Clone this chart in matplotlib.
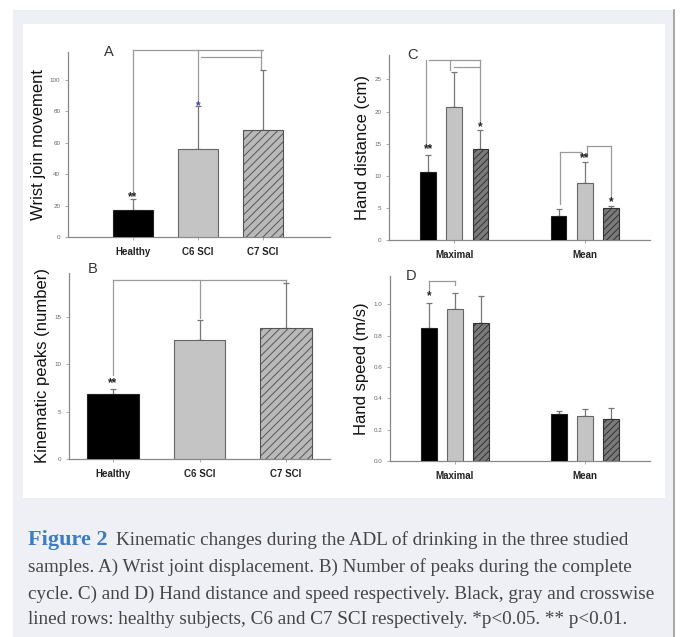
import numpy as np
import matplotlib.pyplot as plt
from matplotlib.patches import Rectangle

# ---- data ----
groups = ['Healthy', 'C6 SCI', 'C7 SCI']
wrist_mean = [17, 56, 68]
wrist_err = [7, 27, 38]
peaks_mean = [6.8, 12.5, 13.8]
peaks_err = [0.6, 2.2, 4.7]

conds = ['Maximal', 'Mean']
dist_healthy = [10.6, 3.7]
dist_healthy_err = [2.7, 1.2]
dist_c6 = [20.7, 8.8]
dist_c6_err = [5.5, 3.4]
dist_c7 = [14.1, 5.0]
dist_c7_err = [3.0, 0.3]

speed_healthy = [0.85, 0.30]
speed_healthy_err = [0.16, 0.02]
speed_c6 = [0.97, 0.29]
speed_c6_err = [0.10, 0.04]
speed_c7 = [0.88, 0.27]
speed_c7_err = [0.17, 0.07]

plt.rcParams['font.family'] = ['Liberation Sans', 'DejaVu Sans']
plt.rcParams['hatch.linewidth'] = 0.7

fig = plt.figure(figsize=(6.8, 6.37), dpi=100, facecolor='white')
W, H = 680, 637


def px_rect(x0, y0, x1, y1, **kw):
    fig.patches.append(Rectangle((x0 / W, 1 - y1 / H), (x1 - x0) / W, (y1 - y0) / H,
                                 transform=fig.transFigure, zorder=-10, **kw))


# page background: lavender box with white chart panel
px_rect(13, 10, 674, 640, facecolor='#eff0f6', edgecolor='none')
fig.add_artist(plt.Line2D([674 / W, 674 / W], [0, 1 - 10 / H], transform=fig.transFigure,
                          color='#999999', lw=1.2))
px_rect(23, 24, 665, 498, facecolor='white', edgecolor='none')

BLACK = dict(facecolor='black', edgecolor='#222222')
GRAY = dict(facecolor='#c4c4c4', edgecolor='#666666')
LINE = '#9a9a9a'


def style(ax, ylabel, letter, lx, ly):
    for s in ['top', 'right']:
        ax.spines[s].set_visible(False)
    for s in ['left', 'bottom']:
        ax.spines[s].set_color('#888888')
        ax.spines[s].set_linewidth(0.9)
    ax.set_facecolor('none')
    ax.tick_params(axis='y', labelsize=4.5, labelcolor='#666666', length=2, width=0.5, color='#888888')
    ax.tick_params(axis='x', labelsize=7, length=2, width=0.5, color='#888888', pad=5)
    for t in ax.get_xticklabels():
        t.set_fontweight('bold')
        t.set_color('#222222')
    ax.set_ylabel(ylabel, fontsize=12, color='#111111', labelpad=3)
    ax.text(lx, ly, letter, transform=ax.transAxes, fontsize=10.5, color='#333333',
            ha='center', va='center')


def seg(ax, xs, ys):
    ax.plot(xs, ys, color=LINE, lw=0.9, clip_on=False, zorder=1)


def star(ax, x, y, s, color='#222222'):
    ax.text(x, y, s, ha='center', va='center', fontsize=8.5, fontweight='bold', color=color)


def bars(ax, x, h, e, width, **kw):
    ax.bar(x, h, width, zorder=3, linewidth=0.8, **kw)
    ax.errorbar(x, h, yerr=[np.zeros(len(h)), e], fmt='none', ecolor='#777777',
                elinewidth=0.9, capsize=2.5, capthick=0.9, zorder=2)


# ---- panel A ----
axA = fig.add_axes([68 / W, 1 - 237 / H, 262 / W, 185 / H])
x3 = np.arange(3)
for i, kw in enumerate([BLACK, GRAY, dict(facecolor='#b9b9b9', edgecolor='#555555', hatch='////')]):
    bars(axA, [x3[i]], [wrist_mean[i]], [wrist_err[i]], 0.62, **kw)
axA.set_xlim(-1.0, 3.03)
axA.set_ylim(0, 117.5)
axA.set_yticks([0, 20, 40, 60, 80, 100])
axA.set_xticks(x3)
axA.set_xticklabels(groups)
style(axA, 'Wrist join movement', 'A', 0.155, 1.0)
seg(axA, [0, 0], [29, 118.5])
seg(axA, [0, 2], [118.5, 118.5])
seg(axA, [1, 1], [87, 118.5])
seg(axA, [1.05, 1.97], [114.3, 114.3])
seg(axA, [1.97, 1.97], [106, 118.5])
star(axA, 0, 25, '**')
star(axA, 1, 83, '*', color='#3340a0')

# ---- panel B ----
axB = fig.add_axes([69 / W, 1 - 459 / H, 261 / W, 186 / H])
for i, kw in enumerate([BLACK, GRAY, dict(facecolor='#b9b9b9', edgecolor='#555555', hatch='////')]):
    bars(axB, [x3[i]], [peaks_mean[i]], [peaks_err[i]], 0.6, **kw)
axB.set_xlim(-0.51, 2.51)
axB.set_ylim(0, 19.6)
axB.set_yticks([0, 5, 10, 15])
axB.set_xticks(x3)
axB.set_xticklabels(groups)
style(axB, 'Kinematic peaks (number)', 'B', 0.09, 1.02)
seg(axB, [0, 0], [8.8, 18.86])
seg(axB, [0, 2], [18.86, 18.86])
seg(axB, [1, 1], [14.9, 18.86])
seg(axB, [2, 2], [18.5, 18.86])
star(axB, 0, 8.0, '**')

# ---- panels C and D ----
xg = np.arange(2)
off = 0.2
bw = 0.12
HATCH_DARK = dict(facecolor='#7a7a7a', edgecolor='#333333', hatch='/////')

axC = fig.add_axes([389 / W, 1 - 240 / H, 261 / W, 185 / H])
bars(axC, xg - off, dist_healthy, dist_healthy_err, bw, **BLACK)
bars(axC, xg, dist_c6, dist_c6_err, bw, **GRAY)
bars(axC, xg + off, dist_c7, dist_c7_err, bw, **HATCH_DARK)
axC.set_xlim(-0.5, 1.5)
axC.set_ylim(0, 28.8)
axC.set_yticks([0, 5, 10, 15, 20, 25])
axC.set_xticks(xg)
axC.set_xticklabels(conds)
style(axC, 'Hand distance (cm)', 'C', 0.09, 1.0)
seg(axC, [-0.215, -0.215], [15.0, 28.0])
seg(axC, [-0.19, 0.195], [28.0, 28.0])
seg(axC, [-0.03, -0.03], [26.4, 28.0])
seg(axC, [0.0, 0.195], [27.0, 27.0])
seg(axC, [0.195, 0.195], [18.3, 28.0])
seg(axC, [0.81, 0.81], [5.6, 13.7])
seg(axC, [0.81, 0.975], [13.7, 13.7])
seg(axC, [0.975, 0.975], [13.0, 13.7])
seg(axC, [1.015, 1.2], [14.6, 14.6])
seg(axC, [1.015, 1.015], [13.0, 14.6])
seg(axC, [1.2, 1.2], [6.4, 14.6])
star(axC, -0.2, 14.2, '**')
star(axC, 0.2, 17.6, '*')
star(axC, 1.0, 12.7, '**')
star(axC, 1.2, 5.9, '*')

axD = fig.add_axes([390 / W, 1 - 461 / H, 260 / W, 185 / H])
bars(axD, xg - off, speed_healthy, speed_healthy_err, bw, **BLACK)
bars(axD, xg, speed_c6, speed_c6_err, bw, **GRAY)
bars(axD, xg + off, speed_c7, speed_c7_err, bw, **HATCH_DARK)
axD.set_xlim(-0.5, 1.5)
axD.set_ylim(0, 1.18)
axD.set_yticks([0, 0.2, 0.4, 0.6, 0.8, 1.0])
axD.set_yticklabels(['0.0', '0.2', '0.4', '0.6', '0.8', '1.0'])
axD.set_xticks(xg)
axD.set_xticklabels(conds)
style(axD, 'Hand speed (m/s)', 'D', 0.08, 1.0)
seg(axD, [-0.2, -0.2], [1.085, 1.145])
seg(axD, [-0.2, 0.0], [1.145, 1.145])
seg(axD, [0.0, 0.0], [1.12, 1.145])
star(axD, -0.2, 1.05, '*')

# ---- caption ----
cap_lines = [
    'Kinematic changes during the ADL of drinking in the three studied',
    'samples. A) Wrist joint displacement. B) Number of peaks during the complete',
    'cycle. C) and D) Hand distance and speed respectively. Black, gray and crosswise',
    'lined rows: healthy subjects, C6 and C7 SCI respectively. *p<0.05. ** p<0.01.',
]
serif = ['Liberation Serif', 'DejaVu Serif']
ys = [540, 567, 594, 620]
fig.text(28 / W, 1 - ys[0] / H, 'Figure 2', family=serif, fontsize=16, fontweight='bold',
         color='#3b7cc2', va='center', ha='left')
fig.text(116 / W, 1 - ys[0] / H, cap_lines[0], family=serif, fontsize=13.8,
         color='#444444', va='center', ha='left')
for line, y in zip(cap_lines[1:], ys[1:]):
    fig.text(28 / W, 1 - y / H, line, family=serif, fontsize=13.8, color='#444444',
             va='center', ha='left')

fig.savefig('out.png', dpi=100, facecolor='white')
